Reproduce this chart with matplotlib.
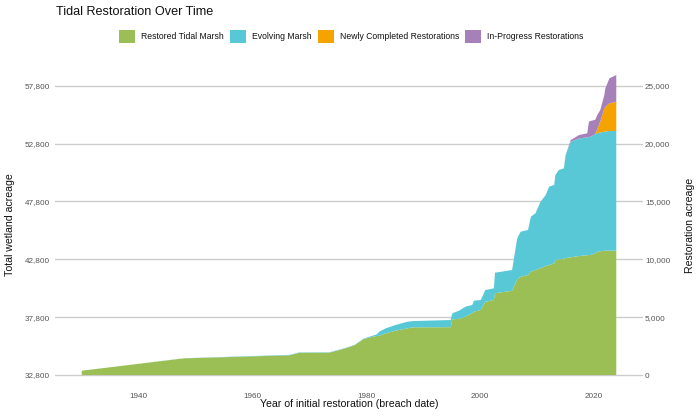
import matplotlib
matplotlib.use("Agg")
import matplotlib.pyplot as plt
from matplotlib.patches import Patch

plt.rcParams['font.family'] = ['Liberation Sans', 'DejaVu Sans']

# ---- data (restoration acreage, stacked layers) ----
years = [1930.0, 1948.0, 1966.5, 1968.2, 1973.5, 1976.3, 1978.0, 1979.5, 1980.7, 1981.8,
         1982.3, 1983.4, 1985.1, 1987.2, 1988.2, 1994.8, 1995.1, 1996.3, 1997.4, 1998.6,
         1998.9, 2000.1, 2000.9, 2002.4, 2002.6, 2005.6, 2006.5, 2007.1, 2008.4, 2008.9,
         2009.7, 2010.6, 2011.5, 2012.1, 2013.0, 2013.2, 2013.8, 2014.7, 2015.0, 2015.9,
         2017.4, 2018.8, 2019.1, 2019.4, 2020.2, 2020.6, 2021.1, 2021.8, 2022.0, 2022.7,
         2023.9]
restored = [370, 1440, 1700, 1920, 1930, 2300, 2590, 3100, 3250, 3370,
            3400, 3600, 3830, 4030, 4120, 4130, 4810, 4850, 5040, 5330,
            5470, 5620, 6330, 6480, 7060, 7280, 8270, 8490, 8640, 8930,
            9070, 9220, 9420, 9500, 9650, 9940, 9980, 10050, 10100, 10170,
            10280, 10350, 10360, 10370, 10500, 10650, 10690, 10740, 10740, 10740,
            10740]
evolving = [0, 10, 40, 30, 30, 30, 30, 40, 80, 130,
            350, 430, 490, 570, 540, 620, 520, 710, 860, 720,
            950, 860, 1010, 1010, 1780, 1790, 3540, 3890, 3890, 4750,
            4900, 5750, 6130, 6770, 6770, 7340, 7730, 7810, 8900, 9990,
            10170, 10180, 10200, 10230, 10300, 10250, 10270, 10280, 10300, 10340,
            10340]
newly_completed = [0] * 44 + [0, 400, 960, 2020, 2140, 2390, 2530]
in_progress = [0] * 39 + [140, 290, 350, 1330, 1350, 1250, 1200, 980, 1150, 1620, 2160, 2310]

series_names = ["Restored Tidal Marsh", "Evolving Marsh",
                "Newly Completed Restorations", "In-Progress Restorations"]
colors = ["#9BBF55", "#58C8D6", "#F5A300", "#A680B8"]

baseline = 32800
y_ticks = [0, 5000, 10000, 15000, 20000, 25000]

# ---- figure ----
W, H = 700, 420
fig = plt.figure(figsize=(W / 100, H / 100), dpi=100)
ax = fig.add_axes([55 / W, 30 / H, 588 / W, 330 / H])

ax.stackplot(years, restored, evolving, newly_completed, in_progress,
             colors=colors, linewidth=0, zorder=2)

xmin, xmax = min(years), max(years)
xpad = 0.05 * (xmax - xmin)
ax.set_xlim(xmin - xpad, xmax + xpad)
tops = [a + b + c + d for a, b, c, d in zip(restored, evolving, newly_completed, in_progress)]
ytop = max(tops)
ax.set_ylim(-0.05 * ytop, ytop * 1.05)

ax.set_yticks(y_ticks)
ax.set_yticklabels([f"{v + baseline:,}" for v in y_ticks])
ax.set_xticks([1940, 1960, 1980, 2000, 2020])
ax.grid(axis='y', color='#CCCCCC', linewidth=1.0, zorder=0)
ax.grid(axis='x', visible=False)
ax.set_axisbelow(True)
for s in ax.spines.values():
    s.set_visible(False)
ax.tick_params(axis='both', length=0, labelsize=5.9, labelcolor='#555555')
ax.tick_params(axis='y', pad=3.6)
ax.tick_params(axis='x', pad=2.5)

ax2 = ax.twinx()
ax2.set_ylim(ax.get_ylim())
ax2.set_yticks(y_ticks)
ax2.set_yticklabels([f"{v:,}" for v in y_ticks])
for s in ax2.spines.values():
    s.set_visible(False)
ax2.tick_params(axis='y', length=0, labelsize=5.9, labelcolor='#555555', pad=1.5)

# titles
fig.text(56 / W, 1 - 12 / H, "Tidal Restoration Over Time", fontsize=9.1,
         color='#111111', ha='left', va='center')
fig.text(349 / W, 1 - 404 / H, "Year of initial restoration (breach date)",
         fontsize=7.6, color='#111111', ha='center', va='center')
fig.text(10 / W, 1 - 225 / H, "Total wetland acreage", fontsize=7.6,
         color='#111111', ha='center', va='center', rotation=90)
fig.text(690 / W, 1 - 225 / H, "Restoration acreage", fontsize=7.6,
         color='#111111', ha='center', va='center', rotation=90)

handles = [Patch(facecolor=c, edgecolor='none') for c in colors]
fig.legend(handles, series_names, loc='center', bbox_to_anchor=(351.5 / W, 1 - 36.5 / H),
           ncol=4, frameon=False, fontsize=6.2, handlelength=1.85, handleheight=2.0,
           handletextpad=0.7, columnspacing=0.7, borderpad=0, borderaxespad=0,
           labelcolor='#111111')

fig.savefig("out.png", dpi=100)
